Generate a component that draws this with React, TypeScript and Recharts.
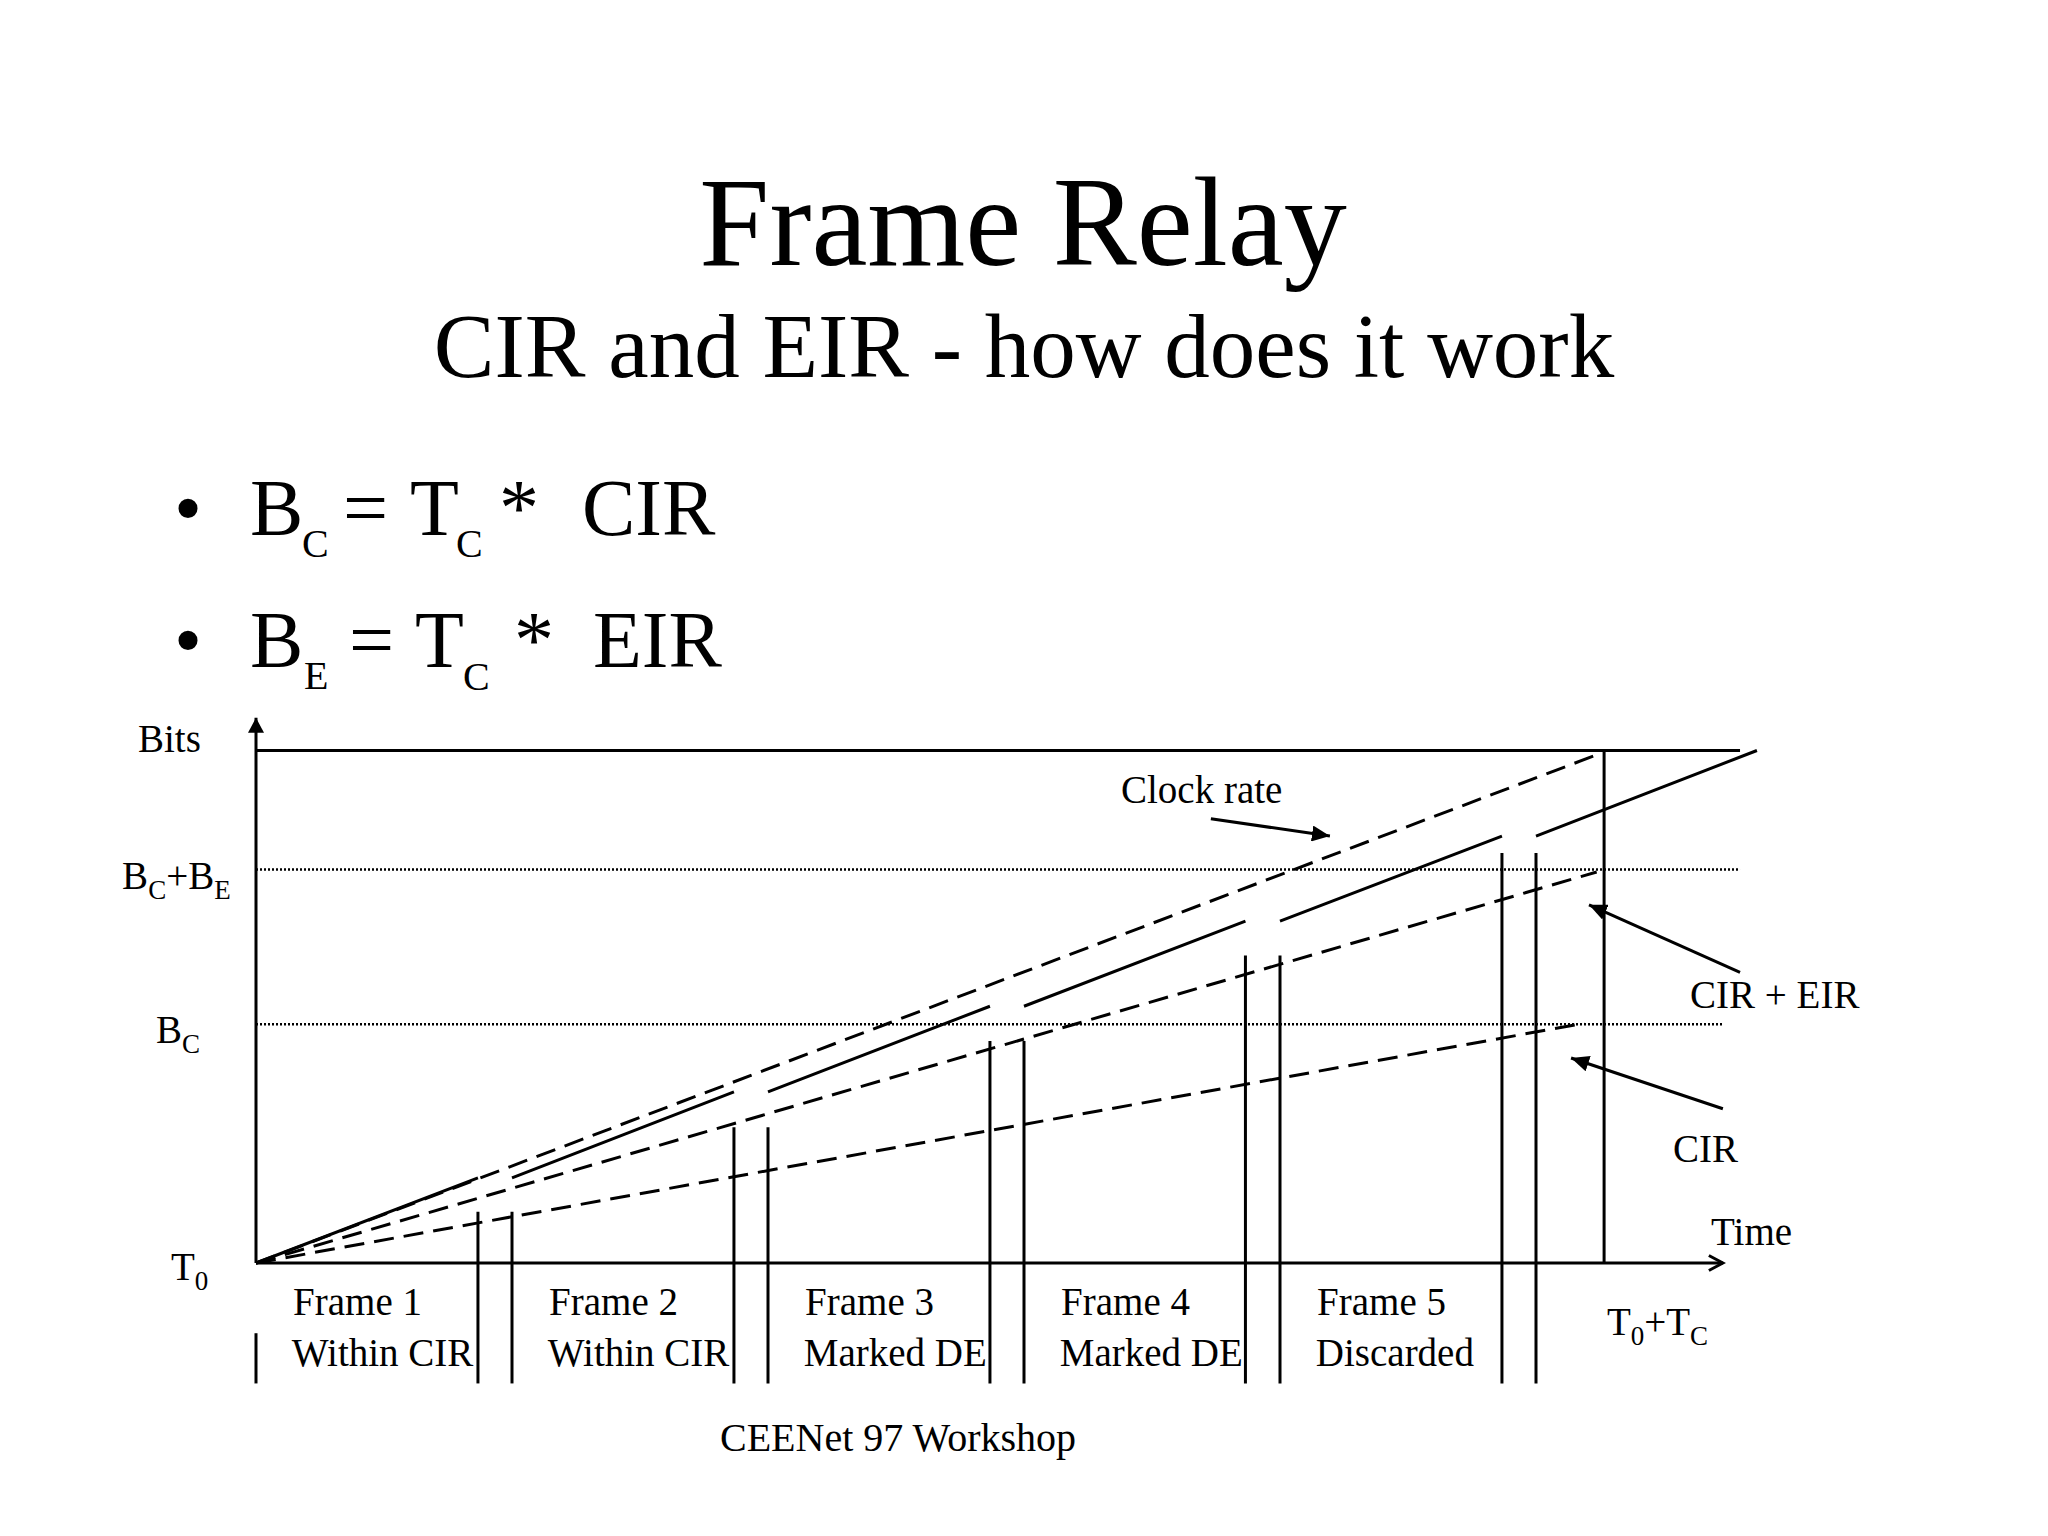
import { ComposedChart, Line, XAxis, YAxis, ReferenceLine, ReferenceDot } from "recharts";

// frames on the time axis (1 unit = one frame slot), bits in % of Tc * clock rate
const frameNames = ["Frame 1", "Frame 2", "Frame 3", "Frame 4", "Frame 5"];
const frameStatus = ["Within CIR", "Within CIR", "Marked DE", "Marked DE", "Discarded"];
const frameStart = [0, 1, 2, 3, 4, 5];
const frameEnd = [0.867, 1.867, 2.867, 3.865, 4.867, 5.863];
const sentBits = [0, 16.6, 33.4, 50.1, 66.7, 83.3, 100];
const boundaryTop = [10, 26.5, 43.3, 60, 80];

const clockRate = [
  { t: 0, bits: 0 },
  { t: 5.25, bits: 99.4 },
];
const cirEir = [
  { t: 0, bits: 0 },
  { t: 5.237, bits: 76.3 },
];
const cir = [
  { t: 0, bits: 0 },
  { t: 5.19, bits: 46.8 },
];

const TC = 5.266;
const MAX_BITS = 100;
const BC_BE = 76.8;
const BC = 46.6;
const LEVEL_END = 5.797;
const AXIS_END = 5.73;
const Y_AXIS_END = 106.4;

type Part = { s: string; sub?: boolean };

const axisLabels: { t: number; bits: number; parts: Part[] }[] = [
  { t: -0.461, bits: 99.8, parts: [{ s: "Bits" }] },
  { t: -0.523, bits: 73.0, parts: [{ s: "B" }, { s: "C", sub: true }, { s: "+B" }, { s: "E", sub: true }] },
  { t: -0.391, bits: 43.0, parts: [{ s: "B" }, { s: "C", sub: true }] },
  { t: -0.332, bits: -3.3, parts: [{ s: "T" }, { s: "0", sub: true }] },
  { t: 5.684, bits: 3.5, parts: [{ s: "Time" }] },
  { t: 5.277, bits: -14.0, parts: [{ s: "T" }, { s: "0", sub: true }, { s: "+T" }, { s: "C", sub: true }] },
  { t: 3.379, bits: 89.8, parts: [{ s: "Clock rate" }] },
  { t: 5.602, bits: 49.8, parts: [{ s: "CIR + EIR" }] },
  { t: 5.535, bits: 19.7, parts: [{ s: "CIR" }] },
];

const arrows = [
  { from: { t: 3.73, bits: 86.7 }, to: { t: 4.195, bits: 83.3 } },
  { from: { t: 5.797, bits: 56.7 }, to: { t: 5.207, bits: 69.9 } },
  { from: { t: 5.73, bits: 30.1 }, to: { t: 5.137, bits: 40.0 } },
];

const FONT = '"Liberation Serif", "Times New Roman", serif';

// solid "frames sent at clock rate" line, broken between frames
const sent: { t: number; bits: number | null }[] = [];
frameStart.forEach((s, i) => {
  sent.push({ t: s, bits: sentBits[i] });
  sent.push({ t: frameEnd[i], bits: sentBits[i + 1] });
  if (i < frameStart.length - 1) sent.push({ t: (frameEnd[i] + frameStart[i + 1]) / 2, bits: null });
});

function RichText({ x, y, parts, size = 39, subSize = 27, shift = 10 }: { x: number; y: number; parts: Part[]; size?: number; subSize?: number; shift?: number }) {
  let prevSub = false;
  return (
    <text x={x} y={y} fontFamily={FONT} fontSize={size} fill="#000">
      {parts.map((p, i) => {
        const dy = p.sub && !prevSub ? shift : !p.sub && prevSub ? -shift : 0;
        prevSub = !!p.sub;
        return (
          <tspan key={i} dy={dy} fontSize={p.sub ? subSize : size}>
            {p.s}
          </tspan>
        );
      })}
    </text>
  );
}

function seg(x1: number, y1: number, x2: number, y2: number) {
  return [
    { x: x1, y: y1 },
    { x: x2, y: y2 },
  ];
}

const arrowShape = (marker: string) => (p: any) => (
  <line x1={p.x1} y1={p.y1} x2={p.x2} y2={p.y2} stroke="#000" strokeWidth={3} markerEnd={`url(#${marker})`} />
);

function SlideText() {
  return (
    <svg width={2048} height={1536} style={{ position: "absolute", left: 0, top: 0, pointerEvents: "none" }}>
      <g fontFamily={FONT} fill="#000">
        <text x={1023} y={265} fontSize={126} textAnchor="middle">
          Frame Relay
        </text>
        <text x={1024} y={377} fontSize={91} textAnchor="middle">
          CIR and EIR - how does it work
        </text>

        <text x={174} y={535} fontSize={80}>•</text>
        <text x={250} y={535} fontSize={80}>B</text>
        <text x={302} y={557} fontSize={40}>C</text>
        <text x={343} y={535} fontSize={80}>=</text>
        <text x={410} y={535} fontSize={80}>T</text>
        <text x={456} y={557} fontSize={40}>C</text>
        <text x={499} y={535} fontSize={80}>*</text>
        <text x={582} y={535} fontSize={80}>CIR</text>

        <text x={174} y={667} fontSize={80}>•</text>
        <text x={250} y={667} fontSize={80}>B</text>
        <text x={304} y={689} fontSize={40}>E</text>
        <text x={349} y={667} fontSize={80}>=</text>
        <text x={415} y={667} fontSize={80}>T</text>
        <text x={463} y={690} fontSize={40}>C</text>
        <text x={514} y={667} fontSize={80}>*</text>
        <text x={593} y={667} fontSize={80}>EIR</text>

        <text x={720} y={1451} fontSize={40}>
          CEENet 97 Workshop
        </text>
      </g>
    </svg>
  );
}

export default function App() {
  return (
    <div style={{ position: "absolute", left: 0, top: 0, width: 2048, height: 1536, background: "#fff" }}>
      <ComposedChart width={2048} height={1536} margin={{ top: 648, right: 0, bottom: 68, left: 0 }}>
        <defs>
          <marker id="arrowFilled" markerUnits="userSpaceOnUse" markerWidth={20} markerHeight={16} refX={18} refY={8} orient="auto">
            <path d="M0,0 L18,8 L0,16 z" fill="#000" />
          </marker>
          <marker id="axisArrow" markerUnits="userSpaceOnUse" markerWidth={16} markerHeight={16} refX={15} refY={8} orient="auto">
            <path d="M0,0 L15,8 L0,16 z" fill="#000" />
          </marker>
          <marker id="arrowOpen" markerUnits="userSpaceOnUse" markerWidth={20} markerHeight={20} refX={17} refY={10} orient="auto">
            <path d="M3,2.5 L17,10 L3,17.5" fill="none" stroke="#000" strokeWidth={3} />
          </marker>
        </defs>
        <XAxis type="number" dataKey="t" domain={[-1, 7]} hide allowDataOverflow />
        <YAxis type="number" domain={[-40, 120]} hide allowDataOverflow />

        {/* levels */}
        <ReferenceLine segment={seg(0, MAX_BITS, LEVEL_END, MAX_BITS)} stroke="#000" strokeWidth={3} />
        <ReferenceLine segment={seg(0, BC_BE, LEVEL_END, BC_BE)} stroke="#000" strokeWidth={2.5} strokeDasharray="2 2" />
        <ReferenceLine segment={seg(0, BC, AXIS_END, BC)} stroke="#000" strokeWidth={2.5} strokeDasharray="2 2" />

        {/* axes */}
        <ReferenceLine segment={seg(0, 0, 0, Y_AXIS_END)} shape={arrowShape("axisArrow")} />
        <ReferenceLine segment={seg(0, 0, AXIS_END, 0)} shape={arrowShape("arrowOpen")} />
        <ReferenceLine segment={seg(0, -13.7, 0, -23.5)} stroke="#000" strokeWidth={3} />
        <ReferenceLine segment={seg(TC, 0, TC, MAX_BITS)} stroke="#000" strokeWidth={3} />

        {/* frame boundaries */}
        {boundaryTop.map((top, i) => (
          <ReferenceLine key={`e${i}`} segment={seg(frameEnd[i], -23.5, frameEnd[i], top)} stroke="#000" strokeWidth={3} />
        ))}
        {boundaryTop.map((top, i) => (
          <ReferenceLine key={`s${i}`} segment={seg(frameStart[i + 1], -23.5, frameStart[i + 1], top)} stroke="#000" strokeWidth={3} />
        ))}

        <Line data={clockRate} dataKey="bits" type="linear" stroke="#000" strokeWidth={3} strokeDasharray="20 10" dot={false} activeDot={false} isAnimationActive={false} />
        <Line data={cirEir} dataKey="bits" type="linear" stroke="#000" strokeWidth={3} strokeDasharray="20 10" dot={false} activeDot={false} isAnimationActive={false} />
        <Line data={cir} dataKey="bits" type="linear" stroke="#000" strokeWidth={3} strokeDasharray="20 10" dot={false} activeDot={false} isAnimationActive={false} />
        <Line data={sent} dataKey="bits" type="linear" stroke="#000" strokeWidth={3} dot={false} activeDot={false} connectNulls={false} isAnimationActive={false} />

        {/* annotation arrows */}
        {arrows.map((a, i) => (
          <ReferenceLine key={`a${i}`} segment={seg(a.from.t, a.from.bits, a.to.t, a.to.bits)} shape={arrowShape("arrowFilled")} />
        ))}

        {axisLabels.map((l, i) => (
          <ReferenceDot key={`l${i}`} x={l.t} y={l.bits} r={1} shape={(p: any) => <RichText x={p.cx} y={p.cy} parts={l.parts} />} />
        ))}

        {frameNames.map((name, i) => (
          <ReferenceDot key={name} x={frameStart[i] + 0.145} y={-10.1} r={1} shape={(p: any) => <RichText x={p.cx} y={p.cy} parts={[{ s: name }]} />} />
        ))}
        {frameStatus.map((status, i) => (
          <ReferenceDot key={`st${i}`} x={frameStart[i] + 0.14} y={-20.1} r={1} shape={(p: any) => <RichText x={p.cx} y={p.cy} parts={[{ s: status }]} />} />
        ))}
      </ComposedChart>
      <SlideText />
    </div>
  );
}
